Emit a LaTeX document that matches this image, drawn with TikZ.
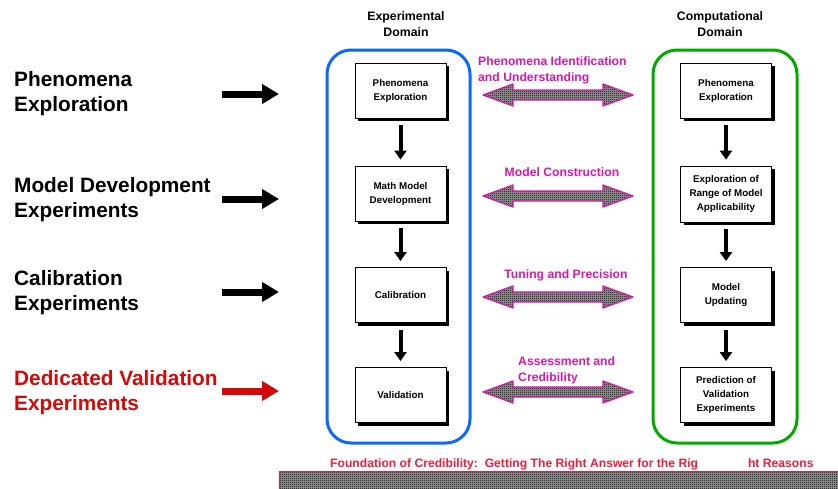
\documentclass[tikz,border=0pt]{standalone}
\usepackage{fontspec}
\setmainfont{Liberation Sans}
\usetikzlibrary{arrows.meta,shadows,patterns}

\definecolor{domblue}{RGB}{10,105,255}
\definecolor{domgreen}{RGB}{0,170,0}
\definecolor{linkmag}{RGB}{212,25,170}
\definecolor{valred}{RGB}{210,10,10}
\definecolor{footred}{RGB}{235,30,60}

% fine 1pt checkerboard used for the hatched arrows and the base bar
\pgfdeclarepatternformonly{finecheck}{\pgfqpoint{0pt}{0pt}}{\pgfqpoint{2pt}{2pt}}{\pgfqpoint{2pt}{2pt}}{%
  \pgfpathrectangle{\pgfqpoint{0pt}{0pt}}{\pgfqpoint{1pt}{1pt}}%
  \pgfpathrectangle{\pgfqpoint{1pt}{1pt}}{\pgfqpoint{1pt}{1pt}}%
  \pgfusepath{fill}}

\tikzset{
  lefttext/.style={anchor=west, align=left, inner sep=0pt,
    font=\fontsize{20.8}{25}\selectfont\bfseries},
  header/.style={align=center, inner sep=0pt,
    font=\fontsize{12.3}{16}\selectfont\bfseries},
  linklabel/.style={inner sep=0pt, text=linkmag,
    font=\fontsize{12.2}{16}\selectfont\bfseries},
  stagebox/.style={draw, line width=0.8pt, fill=white, minimum width=91pt,
    minimum height=55pt, inner sep=0pt, align=center,
    font=\fontsize{9.8}{14}\selectfont\bfseries,
    drop shadow={fill=black, opacity=1, shadow xshift=3pt, shadow yshift=-3pt}},
  domainframe/.style={line width=3pt, rounded corners=24pt},
  feedarrow/.style={line width=7pt, -{Triangle[length=17pt,width=19pt]}},
  downarrow/.style={line width=4pt, -{Triangle[length=9pt,width=12pt]},
    shorten <=7pt, shorten >=6pt},
  hatched/.style={preaction={fill=black!40}, pattern=finecheck, pattern color=black},
  dblarrow/.pic={
    \draw[hatched, draw=linkmag, line width=1.3pt, line join=round]
      (-75,0) -- (-45,-11) -- (-45,-5) -- (45,-5) -- (45,-11) -- (75,0)
      -- (45,11) -- (45,5) -- (-45,5) -- (-45,11) -- cycle;
  }
}

\begin{document}
\begin{tikzpicture}[x=1pt, y=-1pt]
\useasboundingbox (0,0) rectangle (838,488);

% stage labels on the left
\node[lefttext] (t1) at (14,94) {Phenomena\\Exploration};
\node[lefttext] (t2) at (14,199.5) {Model Development\\Experiments};
\node[lefttext] (t3) at (14,292.5) {Calibration\\Experiments};
\node[lefttext, text=valred] (t4) at (14,392.5) {Dedicated Validation\\Experiments};

% feed arrows into the experimental domain
\coordinate (fa1) at (222,94);  \coordinate (fb1) at (279,94);
\coordinate (fa2) at (222,199); \coordinate (fb2) at (279,199);
\coordinate (fa3) at (222,292); \coordinate (fb3) at (279,292);
\coordinate (fa4) at (222,391); \coordinate (fb4) at (279,391);
\draw[feedarrow] (fa1) -- (fb1);
\draw[feedarrow] (fa2) -- (fb2);
\draw[feedarrow] (fa3) -- (fb3);
\draw[feedarrow, valred] (fa4) -- (fb4);

% domain headers
\node[header] (hexp) at (406,24) {Experimental\\Domain};
\node[header] (hcomp) at (720,24) {Computational\\Domain};

% domain frames
\draw[domainframe, domblue] (327,50) rectangle (470,443);
\draw[domainframe, domgreen] (653,50) rectangle (797,443);

% experimental stages
\node[stagebox] (e1) at (400.5,90.5) {Phenomena\\Exploration};
\node[stagebox] (e2) at (400.5,193.5) {Math Model\\Development};
\node[stagebox] (e3) at (400.5,295) {Calibration};
\node[stagebox] (e4) at (400.5,395) {Validation};

% computational stages
\node[stagebox] (c1) at (726,90.5) {Phenomena\\Exploration};
\node[stagebox, minimum height=56pt] (c2) at (726,194) {Exploration of\\Range of Model\\Applicability};
\node[stagebox] (c3) at (726,295) {Model\\Updating};
\node[stagebox] (c4) at (726,395) {Prediction of\\Validation\\Experiments};

% flow within each domain
\draw[downarrow] (e1.south) -- (e2.north);
\draw[downarrow] (e2.south) -- (e3.north);
\draw[downarrow] (e3.south) -- (e4.north);
\draw[downarrow] (c1.south) -- (c2.north);
\draw[downarrow] (c2.south) -- (c3.north);
\draw[downarrow] (c3.south) -- (c4.north);

% links between the domains
\pic at (558,95) {dblarrow};
\pic at (558,196) {dblarrow};
\pic at (558,297) {dblarrow};
\pic at (558,392) {dblarrow};

\node[linklabel, anchor=west, align=left] (l1) at (478,70) {Phenomena Identification\\and Understanding};
\node[linklabel] (l2) at (562,172) {Model Construction};
\node[linklabel] (l3) at (566,275) {Tuning and Precision};
\node[linklabel, anchor=west, align=left] (l4) at (518,370.5) {Assessment and\\Credibility};

% foundation bar
\node[anchor=west, inner sep=0pt, text=footred,
  font=\fontsize{12.15}{14}\selectfont\bfseries] (foot) at (330,464)
  {Foundation of Credibility:\ \ Getting The Right Answer for the Rig\hspace{50pt}ht Reasons};
\fill[hatched] (279,471) rectangle (838,489);
\draw[footred, line width=1pt] (279,489) -- (279,471.5) -- (838,471.5);
\end{tikzpicture}
\end{document}
